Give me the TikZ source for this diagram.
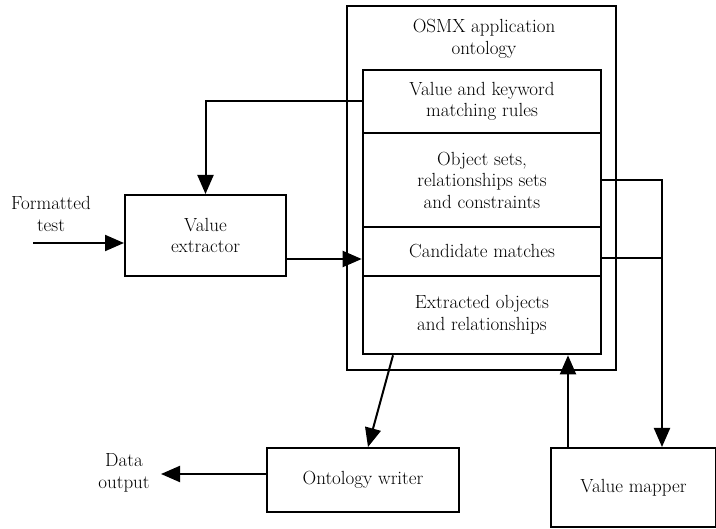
\documentclass[tikz,border=0pt]{standalone}
\usetikzlibrary{arrows.meta}
\begin{document}
\begin{tikzpicture}[x=1pt,y=-1pt,
  box/.style={draw,line width=2pt,rectangle,inner sep=0pt,align=center},
  row/.style={draw,line width=2.6pt,rectangle,inner sep=0pt,align=center,minimum width=238pt},
  lbl/.style={align=center,inner sep=0pt},
  arr/.style={line width=2pt,-{Triangle[length=19pt,width=16pt]}},
  ln/.style={line width=2pt},
  every node/.style={font=\rmfamily\fontsize{19}{21.5}\selectfont}]
\useasboundingbox (0,0) rectangle (716,529);
% outer ontology box
\node[box,minimum width=269pt,minimum height=364pt] (osmx) at (481.5,188) {};
\node[lbl] (title) at (484,39) {OSMX application\\ontology};
% rows
\node[row,minimum height=63pt] (rules) at (482,101.5) {Value and keyword\\matching rules};
\node[row,minimum height=94pt] (objsets) at (482,180) {Object sets,\\relationships sets\\and constraints};
\node[row,minimum height=49pt] (cand) at (482,251.5) {Candidate matches};
\node[row,minimum height=78pt] (extr) at (482,315) {Extracted objects\\and relationships};
% other boxes
\node[box,minimum width=161pt,minimum height=81pt] (ve) at (205.5,235.5) {Value\\extractor};
\node[box,minimum width=192pt,minimum height=64pt] (ow) at (363,480) {Ontology writer};
\node[box,minimum width=165pt,minimum height=79pt] (vm) at (633.5,487.5) {Value mapper};
% free labels
\node[lbl] (ft) at (51,214) {Formatted\\test};
\node[lbl] (dout) at (124,473) {Data\\output};
% coordinates
\coordinate (ftstart) at (33,243);
\coordinate (veout) at (286,259);
\coordinate (rt) at (662,180);
\coordinate (ct) at (662,258);
\coordinate (upx) at (568,0);
\coordinate (owx1) at (393,0);
\coordinate (owx2) at (368,0);
\coordinate (dend) at (161,474);
% connectors
\draw[arr] (ftstart) -- (ve.west |- ftstart);
\draw[arr] (ve.east |- veout) -- (cand.west |- veout);
\draw[arr] (rules.west) -| (ve.north);
\draw[arr] (objsets.east) -- (rt) -- (rt |- vm.north);
\draw[ln] (cand.east |- ct) -- (ct);
\draw[arr] (vm.north -| upx) -- (extr.south -| upx);
\draw[arr] (extr.south -| owx1) -- (ow.north -| owx2);
\draw[arr] (ow.west |- dend) -- (dend);
\end{tikzpicture}
\end{document}
